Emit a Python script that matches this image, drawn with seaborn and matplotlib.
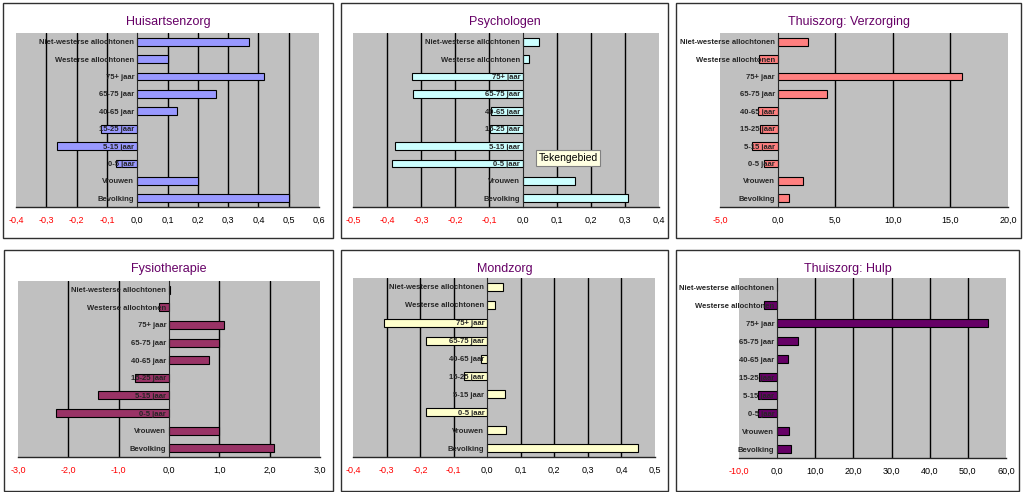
import matplotlib
matplotlib.use('Agg')
import matplotlib.pyplot as plt
import matplotlib.patches as mpatches
import seaborn as sns
import numpy as np

sns.set_style('white')
plt.rcParams['font.family'] = ['Liberation Sans', 'DejaVu Sans']

# ── data ─────────────────────────────────────────────────────────────────────
categorieen = ['Niet-westerse allochtonen', 'Westerse allochtonen', '75+ jaar',
               '65-75 jaar', '40-65 jaar', '15-25 jaar', '5-15 jaar',
               '0-5 jaar', 'Vrouwen', 'Bevolking']

huisartsenzorg = [0.37, 0.10, 0.42, 0.26, 0.13, -0.12, -0.265, -0.07, 0.20, 0.50]
psychologen    = [0.046, 0.018, -0.326, -0.323, -0.093, -0.096, -0.377, -0.385, 0.154, 0.308]
verzorging     = [2.6, -1.65, 16.0, 4.25, -1.7, -1.5, -2.2, -1.2, 2.2, 1.0]
fysiotherapie  = [0.02, -0.2, 1.09, 0.99, 0.79, -0.67, -1.42, -2.24, 0.99, 2.09]
mondzorg       = [0.046, 0.024, -0.307, -0.181, -0.02, -0.069, 0.054, -0.181, 0.057, 0.45]
hulp           = [0.0, -3.4, 55.4, 5.4, 2.8, -4.8, -5.1, -5.1, 3.05, 3.75]

titels = ['Huisartsenzorg', 'Psychologen', 'Thuiszorg: Verzorging',
          'Fysiotherapie', 'Mondzorg', 'Thuiszorg: Hulp']
reeksen = [huisartsenzorg, psychologen, verzorging, fysiotherapie, mondzorg, hulp]
assen = [(-0.4, 0.6, 0.1), (-0.5, 0.4, 0.1), (-5, 20, 5),
         (-3, 3, 1), (-0.4, 0.5, 0.1), (-10, 60, 10)]

# ── opmaak (pixels in de 1023x492 afbeelding) ───────────────────────────────
W, H = 1023, 492
kleuren = ['#9999FF', '#CCFFFF', '#FF8080', '#993366', '#FFFFCC', '#660066']
kaders = [(3, 3, 333, 238), (341, 3, 668, 238), (676, 3, 1021, 238),
          (4, 250, 333, 491), (341, 250, 668, 491), (676, 250, 1019, 491)]
vlakken = [(16, 33, 319, 207), (353, 33, 659, 207), (720, 33, 1008, 207),
           (18, 281, 320, 457), (353, 278, 655, 457), (739, 278, 1006, 458)]
TITEL_KLEUR = '#660066'


def fig_rect(x0, y0, x1, y1):
    return [x0 / W, 1 - y1 / H, (x1 - x0) / W, (y1 - y0) / H]


def komma(v):
    if abs(v) < 1e-9:
        v = 0.0
    return f'{v:.1f}'.replace('.', ',')


fig = plt.figure(figsize=(W / 100, H / 100), dpi=100)
fig.patch.set_facecolor('white')

for titel, waarden, kleur, kader, vlak, (xmin, xmax, stap) in zip(
        titels, reeksen, kleuren, kaders, vlakken, assen):
    # kader rond de grafiek
    x0, y0, x1, y1 = kader
    fig.add_artist(mpatches.Rectangle((x0 / W, 1 - y1 / H), (x1 - x0) / W,
                                      (y1 - y0) / H, transform=fig.transFigure,
                                      fill=False, ec='#303030', lw=1.0))
    fig.text((x0 + x1) / 2 / W, 1 - (y0 + 19) / H, titel, ha='center',
             va='center', fontsize=9, color=TITEL_KLEUR)

    ax = fig.add_axes(fig_rect(*vlak))
    ax.set_facecolor('#C0C0C0')
    sns.barplot(x=waarden, y=categorieen, orient='h', color=kleur,
                saturation=1, edgecolor='black', linewidth=0.8, width=0.45,
                ax=ax)
    for p in ax.patches:
        p.set_zorder(2)

    ax.set_xlim(xmin, xmax)
    ticks = np.round(np.arange(xmin, xmax + stap / 2, stap), 4)
    # rasterlijnen onder de balken, labels erboven
    for t in ticks[1:-1]:
        if abs(t) > 1e-9:
            ax.axvline(t, color='black', lw=1, zorder=0.5)
    ax.set_xticks(ticks)
    ax.set_xticklabels([komma(t) for t in ticks], fontsize=6.5)
    for lab, t in zip(ax.get_xticklabels(), ticks):
        lab.set_color('red' if t < -1e-9 else 'black')

    ax.spines['left'].set_position(('data', 0))
    ax.spines['left'].set_zorder(4)
    for s in ['top', 'right']:
        ax.spines[s].set_visible(False)
    ax.spines['bottom'].set_linewidth(1)

    ax.tick_params(axis='x', direction='out', length=3, width=0.8, pad=3)
    ax.tick_params(axis='y', length=0, pad=2)
    ax.set_yticks(range(len(categorieen)))
    ax.set_yticklabels(categorieen, fontsize=5.5, fontweight='bold')
    ax.set_yticks(np.arange(-0.5, len(categorieen), 1), minor=True)
    ax.tick_params(axis='y', which='minor', direction='in', length=2.5, width=0.8)
    ax.yaxis.set_zorder(5)
    ax.set_xlabel('')
    ax.set_ylabel('')

# tooltip in de grafiek Psychologen
fig.text(568 / W, 1 - 158 / H, 'Tekengebied', ha='center', va='center',
         fontsize=7.5, color='black',
         bbox=dict(boxstyle='square,pad=0.25', fc='#FFFFE1', ec='#808080', lw=0.8))

fig.savefig('out.png', dpi=100)
